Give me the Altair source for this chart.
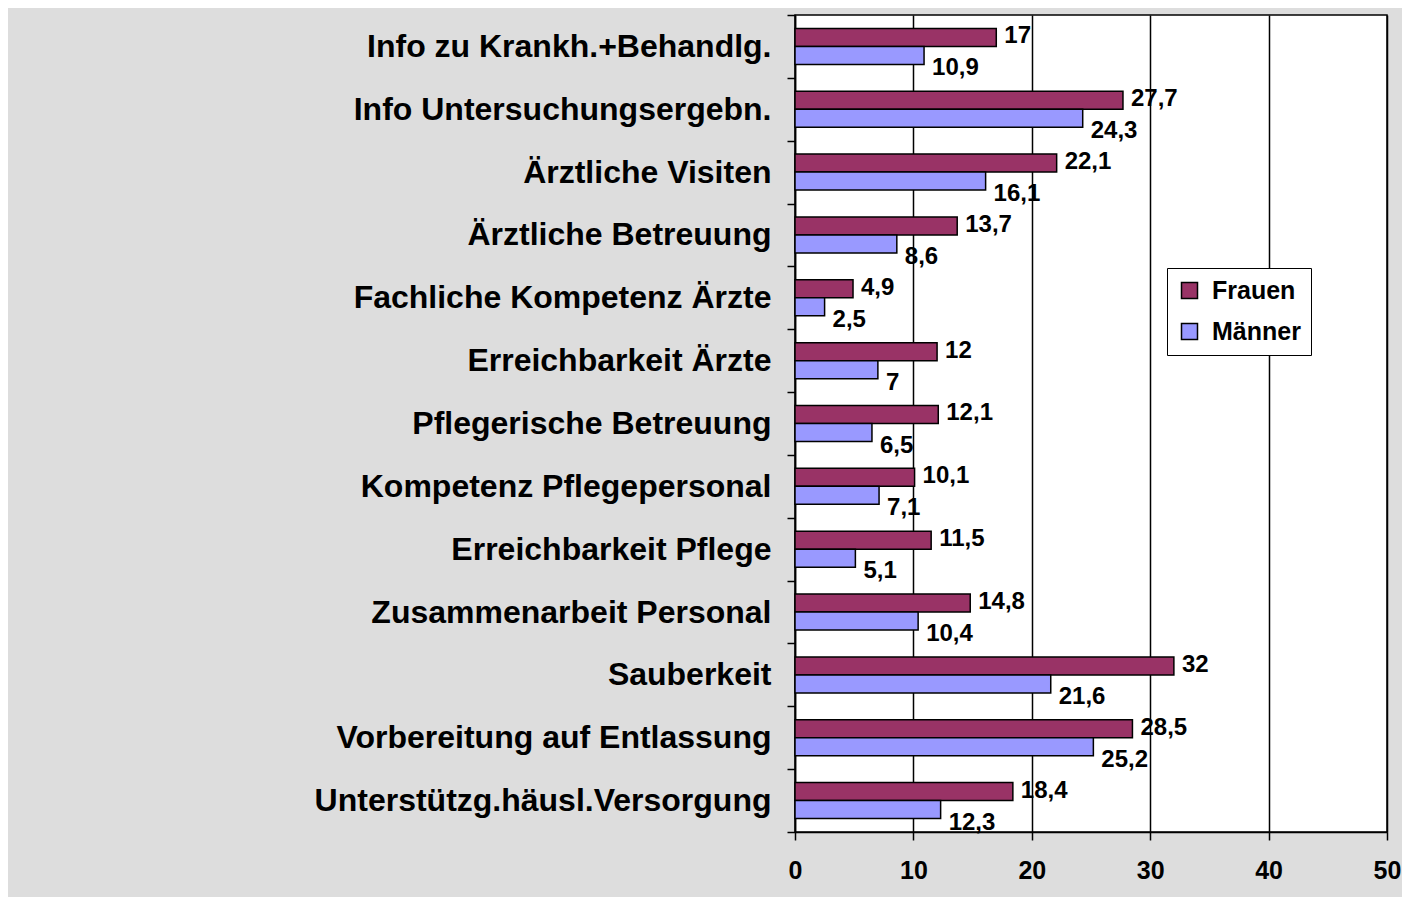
import altair as alt
import pandas as pd

categories = [
    "Info zu Krankh.+Behandlg.",
    "Info Untersuchungsergebn.",
    "Ärztliche Visiten",
    "Ärztliche Betreuung",
    "Fachliche Kompetenz Ärzte",
    "Erreichbarkeit Ärzte",
    "Pflegerische Betreuung",
    "Kompetenz Pflegepersonal",
    "Erreichbarkeit Pflege",
    "Zusammenarbeit Personal",
    "Sauberkeit",
    "Vorbereitung auf Entlassung",
    "Unterstützg.häusl.Versorgung",
]
frauen = [17, 27.7, 22.1, 13.7, 4.9, 12, 12.1, 10.1, 11.5, 14.8, 32, 28.5, 18.4]
maenner = [10.9, 24.3, 16.1, 8.6, 2.5, 7, 6.5, 7.1, 5.1, 10.4, 21.6, 25.2, 12.3]
series = ["Frauen", "Männer"]
colors = ["#993366", "#9999FF"]
x_ticks = [0, 10, 20, 30, 40, 50]

rows = []
for c, f, m in zip(categories, frauen, maenner):
    rows.append({"Kategorie": c, "Serie": "Frauen", "Wert": f})
    rows.append({"Kategorie": c, "Serie": "Männer", "Wert": m})
df = pd.DataFrame(rows)

FONT = "Liberation Sans"

y_enc = alt.Y(
    "Kategorie:N",
    sort=categories,
    scale=alt.Scale(paddingInner=0, paddingOuter=0),
    axis=alt.Axis(
        title=None,
        tickBand="extent",
        tickSize=8,
        tickColor="black",
        tickWidth=1.5,
        domainColor="black",
        domainWidth=1.5,
        labelFont=FONT,
        labelFontSize=32,
        labelFontWeight="bold",
        labelColor="black",
        labelPadding=16,
        labelLimit=0,
        grid=False,
    ),
)
x_enc = alt.X(
    "Wert:Q",
    scale=alt.Scale(domain=[0, 50], nice=False),
    axis=alt.Axis(
        title=None,
        values=x_ticks,
        tickSize=8,
        tickColor="black",
        tickWidth=1.5,
        domainColor="black",
        domainWidth=1.5,
        grid=True,
        gridColor="black",
        gridWidth=1.5,
        gridOpacity=1,
        labelFont=FONT,
        labelFontSize=25,
        labelFontWeight="bold",
        labelColor="black",
        labelPadding=18,
        labelFlush=False,
        labelOverlap=False,
    ),
)
yoff = alt.YOffset(
    "Serie:N",
    sort=series,
    scale=alt.Scale(domain=series, paddingInner=0, paddingOuter=0.745),
)

base = alt.Chart(df).encode(y=y_enc, yOffset=yoff)

bars = base.mark_bar(stroke="black", strokeWidth=1.5).encode(
    x=x_enc,
    color=alt.Color(
        "Serie:N",
        scale=alt.Scale(domain=series, range=colors),
        sort=series,
        legend=alt.Legend(
            title=None,
            orient="none",
            legendX=372,
            legendY=253,
            symbolType="square",
            symbolSize=256,
            symbolStrokeColor="black",
            symbolStrokeWidth=1.5,
            labelFont=FONT,
            labelFontSize=25,
            labelFontWeight="bold",
            labelColor="black",
            rowPadding=15,
            padding=10,
            fillColor="white",
            strokeColor="black",
            labelOffset=10,
        ),
    ),
)

label_calc = "replace(toString(datum.Wert), '.', ',')"

text_f = (
    base.transform_filter("datum.Serie == 'Frauen'")
    .transform_calculate(lbl=label_calc)
    .mark_text(align="left", baseline="middle", dx=8, dy=-1, font=FONT,
               fontSize=24, fontWeight="bold", color="black")
    .encode(x="Wert:Q", text="lbl:N")
)
text_m = (
    base.transform_filter("datum.Serie == 'Männer'")
    .transform_calculate(lbl=label_calc)
    .mark_text(align="left", baseline="middle", dx=8, dy=13, font=FONT,
               fontSize=24, fontWeight="bold", color="black")
    .encode(x="Wert:Q", text="lbl:N")
)

chart = (
    alt.layer(bars, text_f, text_m)
    .properties(
        width=592,
        height=817,
        background="#DDDDDD",
        autosize=alt.AutoSizeParams(type="none"),
        padding={"left": 787, "top": 7, "right": 15, "bottom": 65},
    )
    .configure_view(fill="white", stroke="black", strokeWidth=1.5)
)

chart.save("out.html", embed_options={"renderer": "svg", "actions": False})
